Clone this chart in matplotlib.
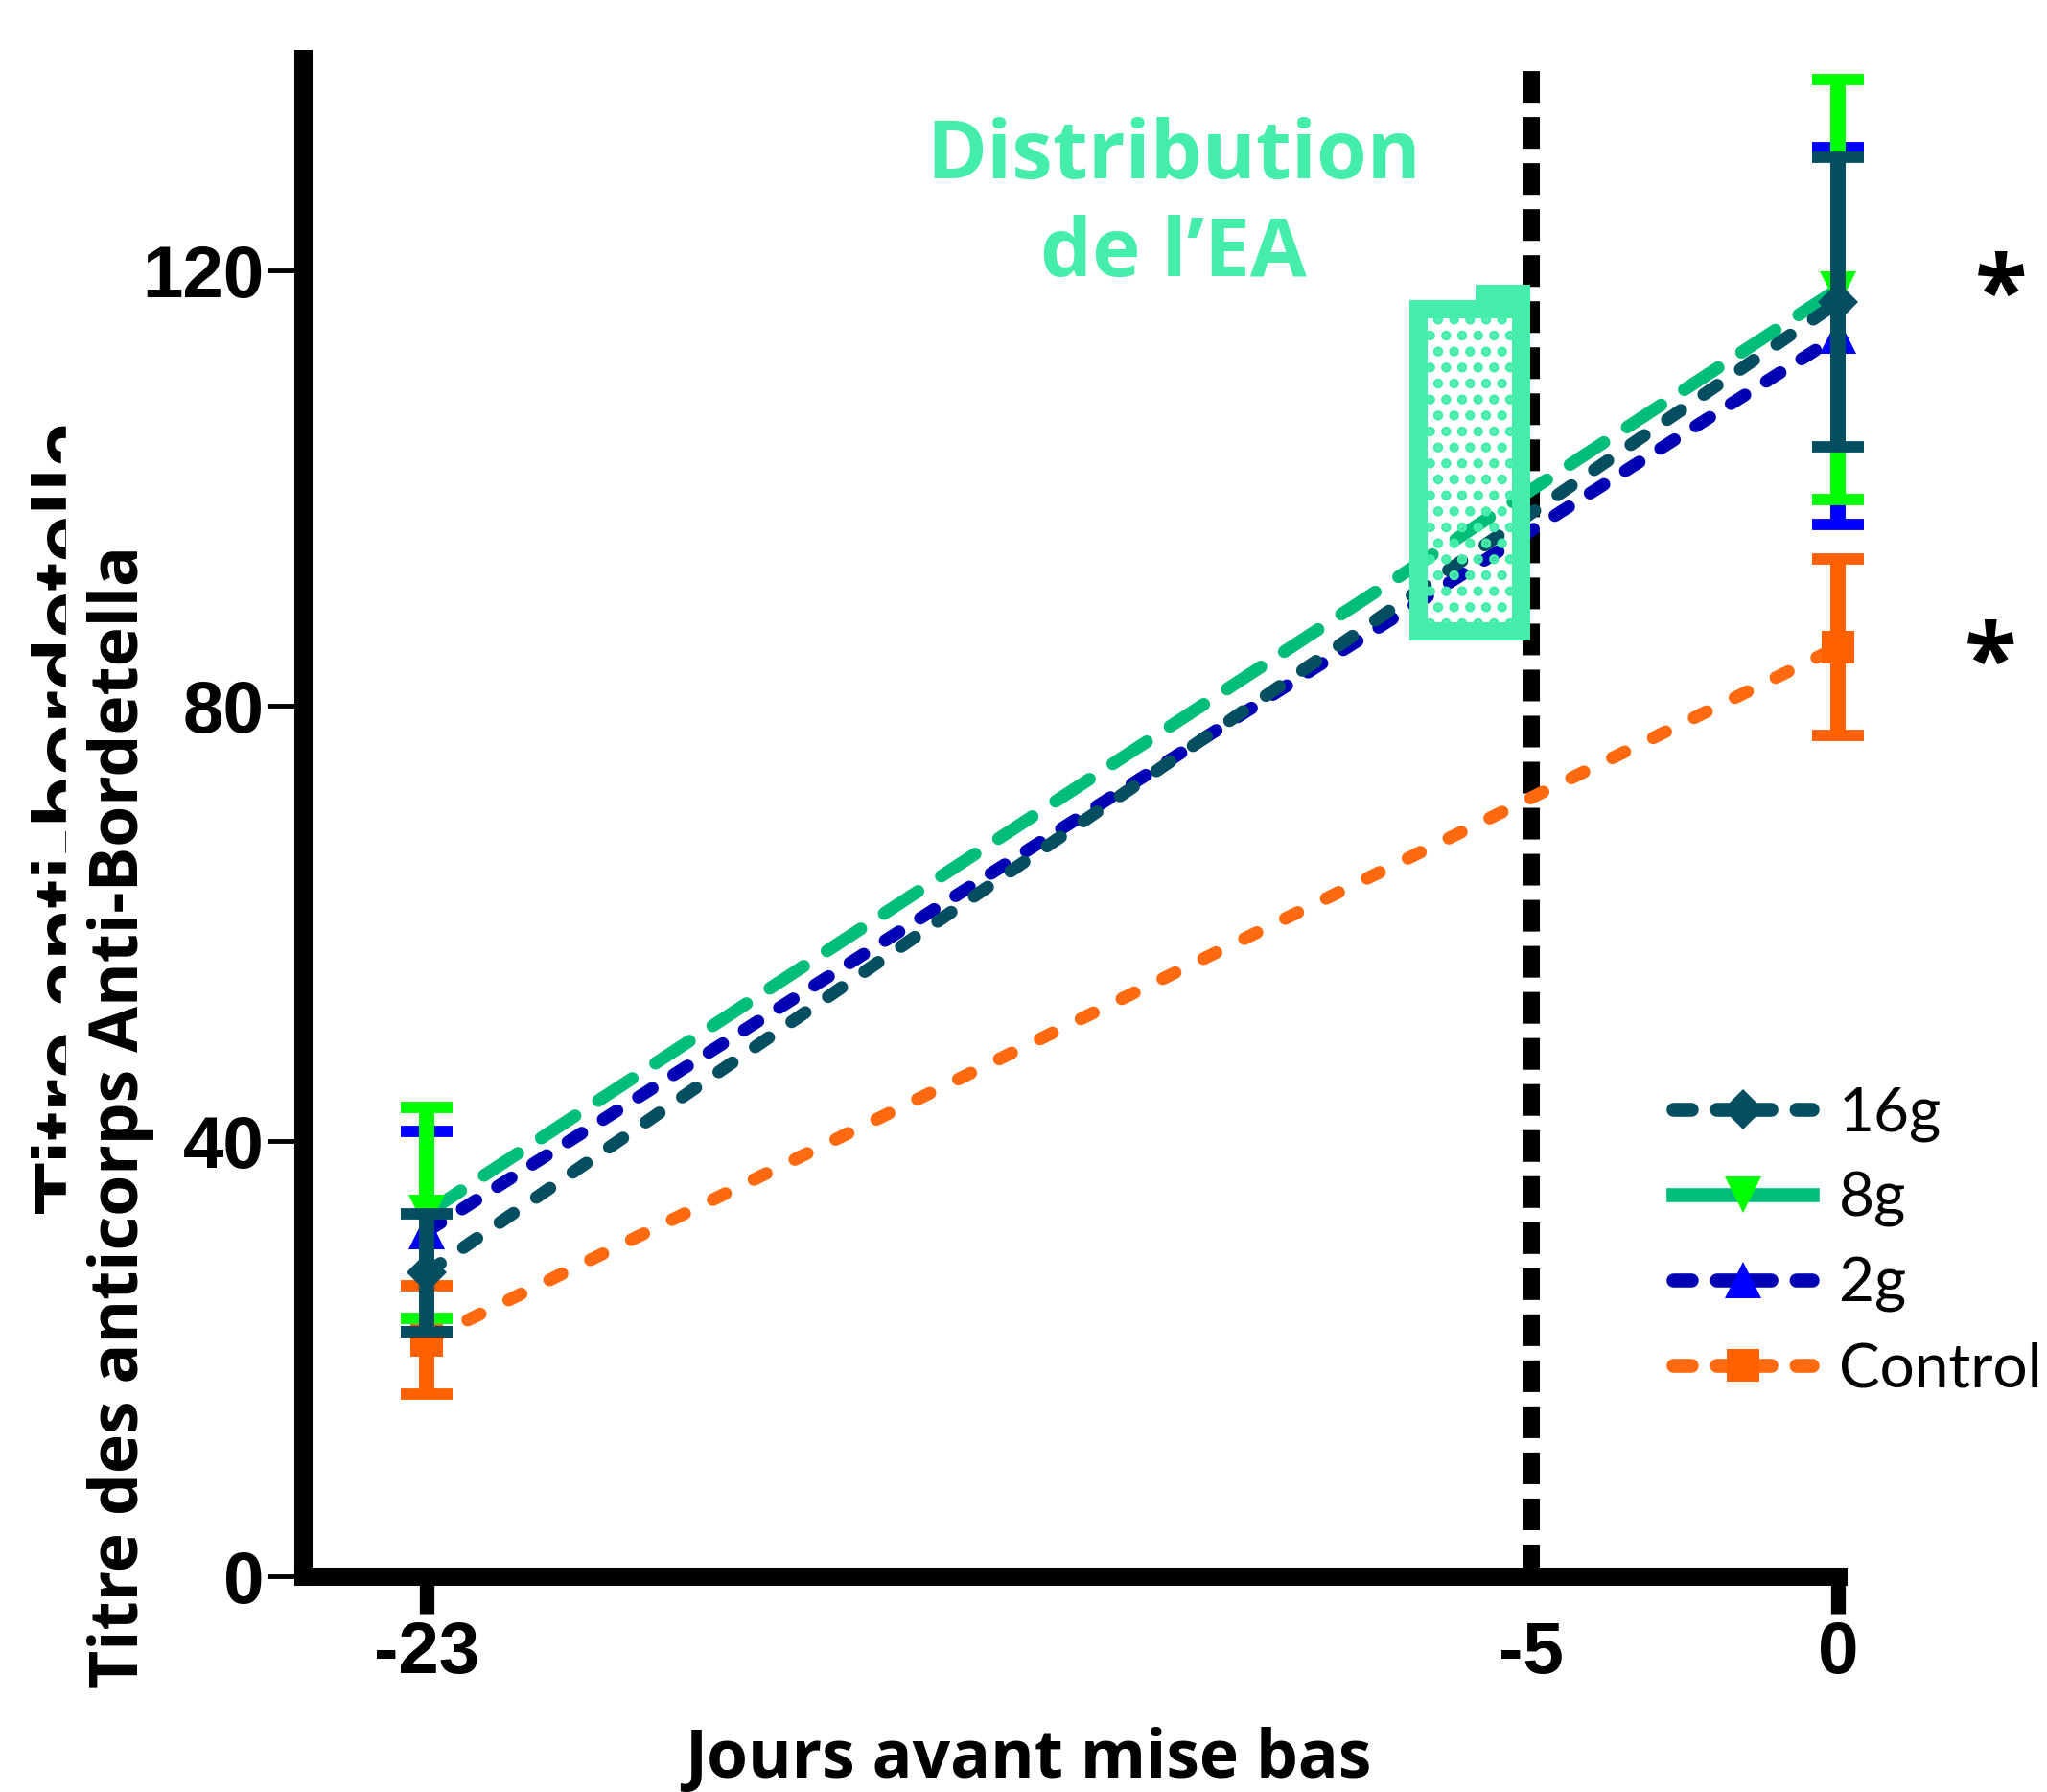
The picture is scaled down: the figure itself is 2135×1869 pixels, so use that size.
import matplotlib
matplotlib.use('Agg')
import matplotlib.pyplot as plt
from matplotlib.lines import Line2D
from matplotlib.patches import Rectangle

# data
days = [-23, 0]
mean_16g = [27.9, 117.1]
err_16g = [5.4, 13.3]
mean_8g = [33.4, 118.3]
err_8g = [9.7, 19.3]
mean_2g = [31.7, 114.0]
err_2g = [9.2, 17.3]
mean_ctrl = [21.7, 85.4]
err_ctrl = [5.0, 8.1]
groups = ['16g', '8g', '2g', 'Control']

xticks = [-23, -5, 0]
xtick_labels = ['-23', '-5', '0']
yticks = [0, 40, 80, 120]
ytick_labels = ['0', '40', '80', '120']

W, H = 2135, 1869
def fx(px):
    return px / W
def fy(py):
    return 1 - py / H

mint = '#44EEAA'
plt.rcParams['hatch.linewidth'] = 5

fig = plt.figure(figsize=(W / 100, H / 100), dpi=100)
ax = fig.add_axes([fx(316), fy(1644), (1917 - 316) / W, (1644 - 61) / H])
ax.set_xlim(-25.02, 0.0)
ax.set_ylim(0, 139.5)

# name: (mean, err, line colour, marker colour, marker, size, dashes)
series = {
    'Control': (mean_ctrl, err_ctrl, '#FF6A10', '#FF6000', 's', 24, (1.1, 2.5)),
    '2g': (mean_2g, err_2g, '#0000B4', '#0000FF', '^', 28, (1.3, 2.0)),
    '8g': (mean_8g, err_8g, '#00BE78', '#00FF00', 'v', 28, (3.2, 2.2)),
    '16g': (mean_16g, err_16g, '#034E61', '#034E61', 'D', 21, (1.3, 2.2)),
}

for i, name in enumerate(['Control', '2g', '8g', '16g']):
    m, e, lc, mc, mk, ms, dsh = series[name]
    z = 3 + i
    ax.plot(days, m, color=lc, lw=9.5, dashes=dsh, dash_capstyle='round',
            marker=mk, ms=ms, mfc=mc, mec=mc, mew=0, clip_on=False, zorder=z)
    eb = ax.errorbar(days, m, yerr=e, fmt='none', ecolor=mc, elinewidth=11.5,
                     capsize=19.5, capthick=8.5, zorder=z + 0.5)
    for art in list(eb.lines[1]) + list(eb.lines[2]):
        art.set_clip_on(False)

# parturition marker line
ax.axvline(-5, color='black', lw=13, dashes=(1.83, 0.83), dash_capstyle='butt', zorder=2)

# dotted box around the distribution period
ax.add_patch(Rectangle((-6.84, 86.9), 1.67, 29.6, fill=False, edgecolor=mint,
                       lw=13.7, hatch='.', zorder=9))
ax.add_patch(Rectangle((-5.91, 116.5), 0.89, 2.2, color=mint, lw=0, zorder=9))

for s in ['top', 'right']:
    ax.spines[s].set_visible(False)
for s in ['left', 'bottom']:
    ax.spines[s].set_linewidth(13.7)

ax.set_xticks(xticks)
ax.set_xticklabels(xtick_labels)
ax.set_yticks(yticks)
ax.set_yticklabels(ytick_labels)
ax.tick_params(axis='x', length=28, width=11, pad=5, labelsize=55)
ax.tick_params(axis='y', length=27, width=3.5, pad=2, labelsize=55)
ax.xaxis.get_major_ticks()[1].tick1line.set_visible(False)
for lab in ax.get_xticklabels() + ax.get_yticklabels():
    lab.set_fontfamily('Liberation Sans')
    lab.set_fontweight('bold')

# axis titles (old label half hidden behind the new one, as on the slide)
fig.text(fx(1072), fy(1854), 'Jours avant mise bas', ha='center', va='baseline',
         family='Open Sans', weight='bold', size=50)
fig.text(fx(98), fy(1266), 'Titre anti-bordetella', rotation=90, rotation_mode='anchor',
         ha='left', va='baseline', family='Liberation Sans', weight='bold', size=64,
         color='black', zorder=1)
fig.patches.append(Rectangle((fx(69), fy(1300)), (160 - 69) / W, 900 / H, color='white',
                             transform=fig.transFigure, zorder=2))
fig.text(fx(144), fy(1165), 'Titre des anticorps Anti-Bordetella', rotation=90,
         rotation_mode='anchor', ha='center', va='baseline', family='Open Sans',
         weight='bold', size=50, zorder=3)

fig.text(fx(1224), fy(186), 'Distribution', ha='center', va='baseline',
         family='Open Sans', weight='bold', size=61.5, color=mint)
fig.text(fx(1224), fy(288), 'de l\u2019EA', ha='center', va='baseline',
         family='Open Sans', weight='bold', size=61.5, color=mint)

# significance stars
fig.text(fx(2087), fy(312), '*', ha='center', va='center', family='Open Sans',
         weight='bold', size=72)
fig.text(fx(2076), fy(696), '*', ha='center', va='center', family='Open Sans',
         weight='bold', size=72)

handles = []
for name in groups:
    m, e, lc, mc, mk, ms, dsh = series[name]
    ls = '-' if name == '8g' else (2.6, (3.9, 1.8))
    handles.append(Line2D([], [], color=lc, lw=10.5, linestyle=ls, dash_capstyle='round',
                          marker=mk, ms=ms, mfc=mc, mec=mc, mew=0))
ax.legend(handles, groups, loc='center left', bbox_to_anchor=(fx(1745), fy(1295)),
          bbox_transform=fig.transFigure, frameon=False,
          prop={'family': 'Lato', 'size': 46}, handlelength=2.27, handletextpad=0.44,
          labelspacing=0.48, borderpad=0, borderaxespad=0, numpoints=1)

fig.savefig('out.png', dpi=100)
